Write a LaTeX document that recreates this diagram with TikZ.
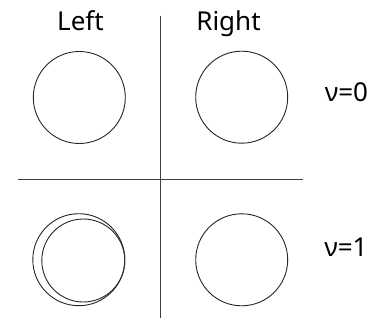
\documentclass[tikz,border=0pt]{standalone}
\usepackage{fontspec}
\setmainfont{Noto Sans}
\begin{document}
\begin{tikzpicture}[x=1pt,y=-1pt,
  ring/.style={circle,draw=black!85,line width=0.9pt,inner sep=0pt,minimum size=92pt},
  ringsmall/.style={circle,draw=black!85,line width=0.9pt,inner sep=0pt,minimum size=83pt},
  axis/.style={draw=black!75,line width=1pt},
  lbl/.style={font=\fontsize{26}{29}\selectfont,inner sep=0pt,text=black}]
\useasboundingbox (0,0) rectangle (387,320);
\coordinate (vtop) at (160.5,16);
\coordinate (vbot) at (160.5,318);
\coordinate (hl) at (17.5,179);
\coordinate (hr) at (303,179);
\draw[axis] (vtop) -- (vbot);
\draw[axis] (hl) -- (hr);
\node[ring] (tl) at (79.3,97.5) {};
\node[ring] (tr) at (241.7,97.2) {};
\node[ring] (bl) at (78.8,259.7) {};
\node[ringsmall] (bli) at (83.3,260.5) {};
\node[ring] (br) at (241.7,259.8) {};
\node[lbl,anchor=base] (left) at (80.5,30.5) {Left};
\node[lbl,anchor=base] (right) at (228.5,30.5) {Right};
\node[lbl,anchor=base] (nu0) at (346.5,102) {ν=0};
\node[lbl,anchor=base] (nu1) at (346,256.5) {ν=1};
\end{tikzpicture}
\end{document}
